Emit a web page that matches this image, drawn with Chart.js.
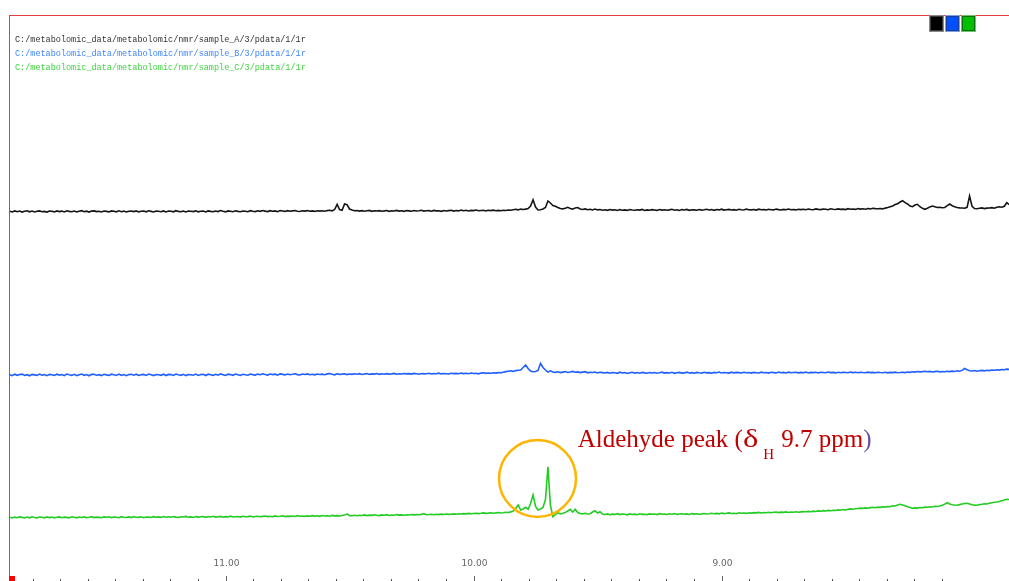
<!DOCTYPE html>
<html>
<head>
<meta charset="utf-8">
<script src="https://cdn.jsdelivr.net/npm/chart.js@4.4.1/dist/chart.umd.min.js"></script>
<style>
  html, body { margin: 0; padding: 0; background: #ffffff; }
  #wrap { width: 1009px; height: 581px; position: relative; }
</style>
</head>
<body>
<div id="wrap"><canvas id="spectrum" width="1009" height="581"></canvas></div>
<script>
// Chemical-shift grid of the processed 1r files (ppm, high to low)
const ppmStart = 11.87;
const ppmStep = 0.01;

// Processed file paths of the three overlaid spectra
const sampleNames = [
  'C:/metabolomic_data/metabolomic/nmr/sample_A/3/pdata/1/1r',
  'C:/metabolomic_data/metabolomic/nmr/sample_B/3/pdata/1/1r',
  'C:/metabolomic_data/metabolomic/nmr/sample_C/3/pdata/1/1r'
];
const traceColors = ['#151515', '#1f5eff', '#22cc22'];
const labelColors = ['#333333', '#3f86ff', '#3fd43f'];
const boxColors = ['#000000', '#0050ff', '#00c000'];

// Vertical stacking of the spectra (intensity units)
const stackOffsets = [365.5, 202, 59.5];

// Intensities, one point per ppmStep, sample A
const intensityA = [
  0.3,-0.4,0.6,-0.2,0.5,-0.6,0.2,0.7,-0.3,0.4,-0.5,0.3,0.6,-0.2,0.1,-0.6,0.5,0.2,-0.4,0.6,
  -0.1,0.4,-0.5,0.7,0.1,-0.3,0.5,-0.4,0.2,0.8,-0.2,0.3,-0.6,0.4,0.6,-0.1,0.2,-0.5,0.5,0.1,
  -0.4,0.6,0.2,-0.3,0.7,-0.2,0.4,-0.5,0.3,0.5,-0.1,0.6,-0.4,0.2,0.4,-0.3,0.7,0.1,-0.5,0.4,
  0.2,-0.2,0.6,-0.4,0.5,0.3,-0.3,0.8,0.1,-0.2,0.5,-0.5,0.4,0.2,-0.1,0.7,-0.3,0.3,0.5,-0.4,
  0.6,0.1,-0.3,0.5,-0.1,0.9,0.2,-0.4,0.6,0.3,-0.2,0.7,0.1,-0.3,0.5,0.2,-0.2,0.8,0.3,-0.1,
  0.7,0.2,1.0,0.4,-0.1,0.8,0.3,0.6,-0.2,0.9,0.5,0.1,0.8,0.2,0.6,1.0,0.3,0.0,0.7,0.4,
  0.9,0.2,0.6,0.1,0.8,0.4,0.7,0.2,0.9,1.2,0.6,2.0,7.2,2.0,1.2,7.5,6.8,2.5,1.5,0.8,
  1.0,0.4,0.9,0.3,0.7,1.1,0.2,0.8,0.5,0.9,0.3,0.6,1.0,0.2,0.7,0.5,1.1,0.4,0.8,0.2,
  0.9,0.6,0.3,1.0,0.5,0.8,1.2,0.4,0.7,0.9,0.3,1.1,0.6,0.8,0.2,1.0,0.5,0.9,1.3,0.4,
  1.0,0.6,1.4,0.8,1.2,0.5,1.1,0.9,1.5,0.7,1.0,1.3,0.6,1.2,0.9,1.4,0.8,1.1,0.7,1.3,
  1.0,1.5,1.2,1.8,2.2,1.6,2.4,2.0,2.4,3.0,5.5,11.8,4.5,1.5,1.8,2.5,4.0,10.5,8.5,6.0,
  5.2,4.0,3.0,2.6,3.2,4.2,3.0,2.4,3.6,4.0,2.5,2.0,2.6,1.8,2.2,1.5,2.4,1.6,2.0,1.3,
  1.8,1.2,2.0,1.4,1.7,1.0,1.9,1.3,1.6,1.1,2.0,1.5,1.2,1.8,1.4,2.1,1.0,1.6,1.3,1.9,
  1.5,1.1,2.0,1.4,1.8,1.2,1.6,2.2,1.3,1.7,1.0,1.9,1.5,2.1,1.2,1.8,1.6,1.3,2.0,1.4,
  1.7,2.2,1.5,1.9,1.2,2.0,1.6,2.3,1.4,1.8,2.1,1.5,1.9,1.3,2.2,1.7,1.5,2.4,1.8,1.6,
  2.0,1.4,2.3,1.7,1.9,1.5,2.2,1.8,1.6,2.4,1.9,1.5,2.1,1.7,2.5,1.8,2.0,1.6,2.3,1.9,
  2.2,1.7,2.4,2.0,1.8,2.6,2.1,1.9,2.5,2.2,1.8,2.7,2.3,2.0,2.6,2.1,2.4,1.9,2.8,2.2,
  2.5,2.1,2.9,2.4,2.7,2.3,3.0,2.6,3.3,2.9,2.8,3.0,2.6,3.4,4.0,4.8,5.6,7.0,7.8,9.5,
  10.8,8.8,7.5,5.5,4.8,6.5,7.2,4.8,3.2,2.2,3.2,4.6,5.5,4.8,4.0,4.3,3.8,4.0,5.8,7.5,
  5.8,4.8,4.0,3.6,3.5,3.2,4.2,15.5,5.2,3.0,2.8,3.2,3.6,2.9,3.4,3.5,3.9,3.3,4.2,4.8,
  4.3,5.2,8.8,6.8
];

// Intensities, sample B
const intensityB = [
  0.2,-0.6,0.8,-0.3,0.5,0.9,-0.5,0.3,-0.8,0.6,0.1,-0.4,0.9,-0.2,0.4,-0.7,0.6,0.2,-0.5,0.8,
  -0.1,0.5,-0.7,0.9,0.2,-0.4,0.7,-0.6,0.3,1.0,-0.3,0.4,-0.8,0.6,0.8,-0.2,0.3,-0.6,0.7,0.1,
  -0.5,0.8,0.3,-0.4,0.9,-0.3,0.5,-0.7,0.4,0.7,-0.2,0.8,-0.5,0.3,0.6,-0.4,1.0,0.2,-0.6,0.5,
  0.3,-0.3,0.8,-0.5,0.6,0.4,-0.4,1.0,0.2,-0.3,0.7,-0.6,0.5,0.3,-0.2,0.9,-0.4,0.4,0.7,-0.5,
  0.8,0.2,-0.4,0.7,-0.1,1.1,0.3,-0.5,0.8,0.4,-0.3,0.9,0.2,-0.4,0.7,0.3,-0.2,1.0,0.4,-0.1,
  0.9,0.3,1.2,0.5,-0.1,1.0,0.4,0.8,-0.2,1.1,0.6,0.1,1.0,0.3,0.7,1.2,0.4,0.0,0.9,0.5,
  1.1,0.3,0.8,0.2,1.0,0.5,0.9,0.3,1.1,1.4,0.7,0.2,1.2,0.6,0.9,1.3,0.4,1.0,0.6,1.2,
  0.8,1.3,0.5,1.0,1.4,0.6,1.1,0.9,1.5,0.7,1.2,0.8,1.4,0.9,1.1,1.6,0.8,1.3,1.0,1.5,
  1.1,1.4,0.9,1.6,1.2,0.8,1.5,1.1,1.3,1.7,1.0,1.4,1.2,1.8,1.1,1.5,1.3,1.0,1.7,1.4,
  1.6,1.2,1.9,1.4,1.7,1.3,2.0,1.5,1.8,1.2,1.9,2.2,1.6,2.0,1.8,2.3,1.9,2.4,2.2,2.8,
  3.4,3.8,4.2,3.6,4.4,4.8,5.0,7.5,10.0,6.5,4.0,3.2,3.5,4.5,11.7,7.5,5.0,3.0,4.2,3.0,
  2.6,3.2,2.4,2.9,3.4,2.5,3.0,3.6,2.7,3.1,2.4,2.9,3.3,2.2,2.8,2.5,3.0,2.1,2.7,2.4,
  2.0,2.6,1.8,2.5,2.2,1.7,2.8,2.0,2.4,1.6,2.3,2.7,1.9,2.5,1.8,2.6,2.1,1.7,2.4,2.0,
  2.5,1.8,2.2,2.8,1.9,2.4,2.0,2.7,1.7,2.3,2.6,1.9,2.1,2.8,2.0,2.4,1.8,2.6,2.2,1.9,
  2.7,2.1,2.4,1.8,2.6,2.2,2.9,2.0,2.5,2.3,1.9,2.8,2.1,2.6,2.4,2.0,2.7,2.2,2.5,1.9,
  2.6,2.3,2.0,2.8,2.2,2.5,1.9,2.7,2.4,2.1,2.9,2.3,2.6,2.0,2.8,2.2,2.5,2.7,2.1,2.6,
  2.3,2.9,2.0,2.6,2.4,2.8,2.1,2.7,2.5,2.2,3.0,2.4,2.6,2.1,2.8,2.3,2.7,2.5,2.2,2.9,
  2.4,2.7,2.2,2.8,2.5,2.3,2.9,2.4,2.6,2.2,2.8,2.5,2.3,2.7,2.1,2.6,2.4,2.9,2.3,2.5,
  2.8,2.4,3.0,2.6,3.2,2.9,3.5,3.1,3.4,3.8,3.2,3.6,3.0,3.4,3.7,3.1,3.5,3.3,3.8,3.4,
  3.9,3.5,4.2,3.8,4.6,6.5,5.2,4.3,4.0,4.5,3.8,4.2,4.6,4.1,4.8,4.4,5.0,4.7,5.2,4.9,
  5.5,5.3,5.9,5.6
];

// Intensities, sample C
const intensityC = [
  0.3,-0.4,0.5,-0.2,0.6,0.1,-0.5,0.4,-0.3,0.7,0.0,-0.4,0.5,0.2,-0.3,0.6,-0.1,0.4,-0.5,0.3,
  0.6,-0.2,0.4,0.1,-0.4,0.7,0.2,-0.3,0.5,0.0,0.6,-0.2,0.3,0.8,-0.1,0.4,0.1,-0.3,0.6,0.2,
  0.7,-0.1,0.5,0.2,-0.2,0.8,0.3,0.0,0.6,-0.1,0.9,0.3,0.1,0.7,-0.2,0.5,0.4,0.0,0.8,0.2,
  0.6,0.1,1.0,0.3,0.7,0.2,0.9,0.4,0.1,0.8,0.5,1.1,0.3,0.6,0.0,0.9,0.4,0.7,1.0,0.2,
  0.9,0.5,1.2,0.4,0.8,1.1,0.3,0.9,0.6,1.3,0.5,0.8,1.0,0.4,1.2,0.7,0.9,1.4,0.5,1.0,
  1.3,0.7,1.1,1.5,0.9,1.2,0.8,1.6,1.0,1.3,1.7,0.9,1.4,1.1,1.5,1.0,1.8,1.2,1.4,1.1,
  1.6,1.3,1.9,1.4,1.7,1.2,2.0,1.5,1.8,1.3,2.1,1.6,1.9,1.5,2.0,2.4,3.6,1.9,1.7,2.2,
  1.8,2.3,2.0,2.6,1.9,2.4,2.1,2.7,2.2,1.9,2.6,2.3,2.8,2.0,2.5,2.2,2.9,2.4,2.6,2.3,
  2.8,2.5,3.0,2.6,2.9,2.7,3.1,3.8,2.8,3.0,3.3,2.7,3.2,2.9,3.4,3.0,3.5,3.1,3.3,3.6,
  3.3,3.8,3.5,3.9,3.6,4.1,3.7,4.0,4.3,3.9,4.2,4.6,4.1,4.4,4.8,4.3,4.6,5.0,4.5,4.8,
  5.2,5.0,5.6,6.5,9.0,12.5,7.5,8.5,10.2,8.2,14.0,22.5,11.0,7.5,8.5,10.0,18.0,50.8,12.0,0.8,
  3.0,4.8,3.5,4.2,5.0,6.5,8.2,5.5,8.2,5.0,4.0,3.6,4.2,3.5,3.8,5.5,6.8,4.5,5.8,3.5,
  3.0,3.6,2.8,3.4,3.1,3.8,2.9,3.5,3.2,2.7,3.6,3.0,3.4,2.8,3.7,3.1,3.3,2.9,3.6,3.2,
  3.5,2.9,3.8,3.2,3.4,3.0,3.7,3.3,3.9,3.1,3.5,3.8,3.2,3.6,3.0,3.9,3.4,3.7,3.3,3.6,
  4.0,3.5,3.8,4.2,3.7,4.1,3.6,4.4,3.9,4.2,4.6,4.0,4.3,3.8,4.7,4.2,4.5,4.1,4.8,4.4,
  4.9,4.6,5.1,4.5,5.0,4.8,5.3,4.7,5.2,5.5,4.9,5.4,5.1,5.6,5.0,5.5,5.3,5.8,5.2,5.6,
  5.9,5.7,6.1,5.8,6.4,6.0,6.6,6.3,6.9,6.5,7.1,6.8,7.3,7.0,7.6,7.2,7.9,7.5,8.2,8.6,
  8.3,8.8,9.0,9.4,9.1,9.6,9.3,9.9,10.2,9.8,10.4,10.1,10.7,10.4,11.0,10.8,11.8,11.5,12.4,13.2,
  12.6,11.8,10.8,10.0,9.2,9.6,9.4,10.0,9.8,10.4,10.2,10.8,10.5,11.2,11.0,11.5,12.2,13.4,14.8,13.6,
  12.8,12.5,12.3,12.9,13.5,14.0,14.2,13.6,12.8,12.4,12.2,12.9,13.2,13.8,13.5,14.2,14.8,15.2,15.5,16.0,
  16.8,17.4,18.2,18.0
];

// Chemical-shift axis
const ppmMin = 7.841;
const ppmMax = 11.873;
const tickValues = [11, 10, 9];
const tickLabels = ['11.00', '10.00', '9.00'];
const minorPerMajor = 9;
const minorFrom = 8.1;
const minorTo = 11.85;

// Annotation of the aldehyde signal
const noteText = ['Aldehyde peak (', '\u03B4', 'H', ' 9.7 ppm', ')'];
const notePpm = 9.58;
const noteLevel = 130.3;
const ringPpm = 9.742;
const ringLevel = 98.5;

function toPoints(values, offset) {
  return values.map((v, i) => ({ x: ppmStart - i * ppmStep, y: v + offset }));
}

const overlay = {
  id: 'overlay',
  afterDatasetsDraw(chart) {
    const ctx = chart.ctx;
    const xs = chart.scales.x;
    const ys = chart.scales.y;
    const area = chart.chartArea;

    ctx.save();
    // frame of the plotting window
    ctx.strokeStyle = '#e23c3c';
    ctx.lineWidth = 1;
    ctx.beginPath();
    ctx.moveTo(area.left, area.top + 0.5);
    ctx.lineTo(area.right, area.top + 0.5);
    ctx.moveTo(area.left + 0.5, area.top);
    ctx.lineTo(area.left + 0.5, area.bottom);
    ctx.stroke();
    ctx.fillStyle = '#ff0000';
    ctx.fillRect(area.left, area.bottom - 1, 6, 6);

    // ppm ticks and labels
    ctx.fillStyle = '#555555';
    for (let j = 1; j < 60; j++) {
      const v = 12 - j / minorPerMajor;
      if (v < minorFrom || v > minorTo) continue;
      const px = Math.round(xs.getPixelForValue(v));
      ctx.fillRect(px, area.bottom + 2, 1, 2);
    }
    ctx.fillStyle = '#666666';
    ctx.font = '9px "DejaVu Sans"';
    ctx.textAlign = 'center';
    ctx.textBaseline = 'middle';
    tickValues.forEach((v, k) => {
      const px = Math.round(xs.getPixelForValue(v));
      ctx.fillRect(px, area.bottom - 1, 1, 5);
      ctx.fillText(tickLabels[k], px + 0.5, area.bottom - 13);
    });

    // file names of the spectra
    ctx.font = '8.5px "Liberation Mono"';
    ctx.textAlign = 'left';
    ctx.textBaseline = 'middle';
    sampleNames.forEach((name, k) => {
      ctx.fillStyle = labelColors[k];
      ctx.fillText(name, area.left + 6, area.top + 24.5 + k * 14.2);
    });

    // colour keys
    boxColors.forEach((c, k) => {
      const bx = 929 + k * 16;
      const by = area.top;
      ctx.fillStyle = k === 0 ? '#8a8a8a' : (k === 1 ? '#7b9fe0' : '#6cc46c');
      ctx.fillRect(bx, by, 15, 17);
      ctx.fillStyle = k === 0 ? '#3a3a3a' : (k === 1 ? '#1c3f9a' : '#0d6e0d');
      ctx.fillRect(bx + 1, by + 1, 13, 15);
      ctx.fillStyle = c;
      ctx.fillRect(bx + 2, by + 2, 11, 13);
    });

    // ring around the aldehyde signal
    ctx.strokeStyle = '#ffb400';
    ctx.lineWidth = 2.5;
    ctx.beginPath();
    ctx.arc(xs.getPixelForValue(ringPpm), ys.getPixelForValue(ringLevel), 38.5, 0, Math.PI * 2);
    ctx.stroke();

    // annotation text
    let tx = xs.getPixelForValue(notePpm);
    const ty = ys.getPixelForValue(noteLevel);
    const big = '25px "Liberation Serif"';
    ctx.textBaseline = 'alphabetic';
    ctx.fillStyle = '#c00000';
    ctx.font = big;
    ctx.fillText(noteText[0], tx, ty);
    tx += ctx.measureText(noteText[0]).width;
    ctx.save();
    ctx.translate(tx, ty);
    ctx.scale(1.3, 1);
    ctx.fillText(noteText[1], 0, 0);
    ctx.restore();
    tx += ctx.measureText(noteText[1]).width * 1.3 + 5;
    ctx.font = '15px "Liberation Serif"';
    ctx.fillText(noteText[2], tx, ty + 12);
    tx += ctx.measureText(noteText[2]).width + 1;
    ctx.font = big;
    ctx.fillText(noteText[3], tx, ty);
    tx += ctx.measureText(noteText[3]).width;
    ctx.fillStyle = '#6e4f9c';
    ctx.fillText(noteText[4], tx, ty);
    ctx.restore();
  }
};

new Chart(document.getElementById('spectrum'), {
  type: 'line',
  data: {
    datasets: [
      { label: sampleNames[0], data: toPoints(intensityA, stackOffsets[0]), borderColor: traceColors[0] },
      { label: sampleNames[1], data: toPoints(intensityB, stackOffsets[1]), borderColor: traceColors[1] },
      { label: sampleNames[2], data: toPoints(intensityC, stackOffsets[2]), borderColor: traceColors[2] }
    ]
  },
  options: {
    responsive: false,
    animation: false,
    devicePixelRatio: 1,
    layout: { padding: { left: 9, top: 15, right: 0, bottom: 4 } },
    elements: {
      line: { borderWidth: 1.6, tension: 0, fill: false },
      point: { radius: 0, hoverRadius: 0 }
    },
    plugins: { legend: { display: false }, tooltip: { enabled: false } },
    scales: {
      x: { type: 'linear', reverse: true, min: ppmMin, max: ppmMax, display: false },
      y: { type: 'linear', min: 0, max: 562, display: false }
    }
  },
  plugins: [overlay]
});
</script>
</body>
</html>
